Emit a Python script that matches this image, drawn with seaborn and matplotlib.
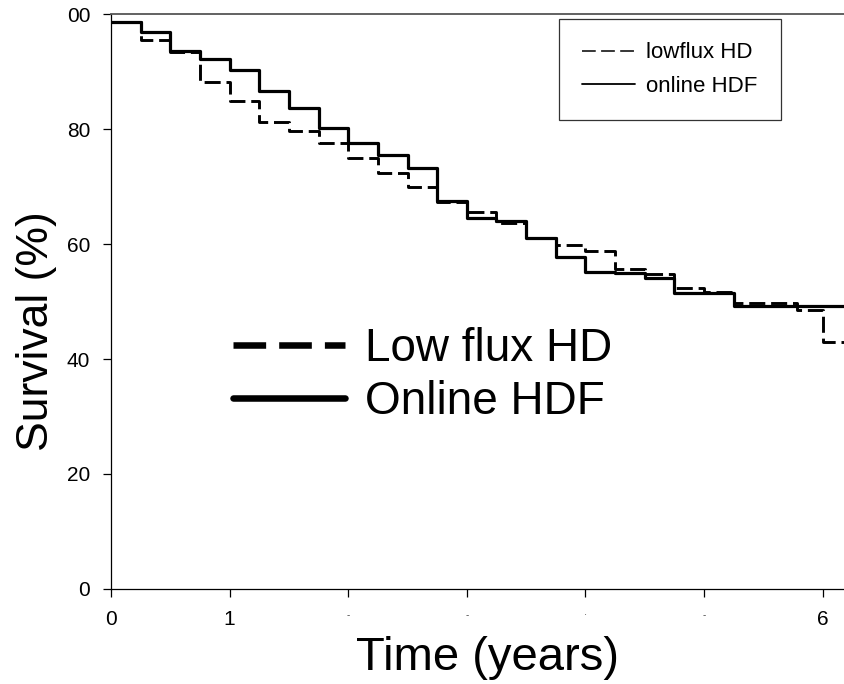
import numpy as np
import pandas as pd
import matplotlib
matplotlib.use("Agg")
import matplotlib.pyplot as plt
from matplotlib.lines import Line2D
import seaborn as sns

# Kaplan-Meier style survival steps (years, %)
hd_time = [0, 0.25, 0.5, 0.75, 1.0, 1.25, 1.5, 1.75, 2.0, 2.25, 2.5, 2.75, 3.0,
           3.25, 3.5, 3.75, 4.0, 4.25, 4.5, 4.75, 5.0, 5.25, 5.78, 6.0, 6.18]
hd_surv = [98.6, 95.5, 93.4, 88.1, 84.9, 81.3, 79.7, 77.6, 75.0, 72.3, 70.0, 67.3, 65.6,
           63.6, 61.0, 59.8, 58.7, 55.6, 54.8, 52.3, 51.6, 49.7, 48.5, 42.9, 42.9]

hdf_time = [0, 0.25, 0.5, 0.75, 1.0, 1.25, 1.5, 1.75, 2.0, 2.25, 2.5, 2.75, 3.0,
            3.25, 3.5, 3.75, 4.0, 4.25, 4.5, 4.75, 5.25, 6.18]
hdf_surv = [98.6, 96.9, 93.6, 92.1, 90.3, 86.6, 83.7, 80.2, 77.6, 75.5, 73.3, 67.5, 64.5,
            64.0, 61.0, 57.7, 55.2, 55.0, 54.1, 51.5, 49.2, 49.2]

x_ticks = [0, 1, 2, 3, 4, 5, 6]
x_ticklabels = ["0", "1", "-", "-", "\u00b7", "-", "6"]
y_ticks = [0, 20, 40, 60, 80, 100]
y_ticklabels = ["0", "20", "40", "60", "80", "00"]

sns.set_style("ticks")
plt.rcParams["font.family"] = ["Liberation Sans", "DejaVu Sans"]
plt.rcParams.update({"text.color": "black", "axes.labelcolor": "black",
                     "xtick.color": "black", "ytick.color": "black"})

hd = pd.DataFrame({"time": hd_time, "surv": hd_surv})
hdf = pd.DataFrame({"time": hdf_time, "surv": hdf_surv})

fig = plt.figure(figsize=(8.44, 6.84), dpi=100)
ax = fig.add_axes([0.1315, 0.1389, 0.8685, 0.8406])

sns.lineplot(data=hd, x="time", y="surv", ax=ax, color="black", lw=2.1,
             drawstyle="steps-post", linestyle=(0, (5.5, 2)), estimator=None)
sns.lineplot(data=hdf, x="time", y="surv", ax=ax, color="black", lw=2.3,
             drawstyle="steps-post", estimator=None)

ax.set_xlim(0, 6.18)
ax.set_ylim(0, 100)
ax.set_xticks(x_ticks)
ax.set_xticklabels(x_ticklabels)
ax.set_yticks(y_ticks)
ax.set_yticklabels(y_ticklabels)
ax.tick_params(axis="both", labelsize=15, length=6, width=0.9, pad=9, color="black")
for lab in ax.get_xticklabels()[2:6]:
    lab.set_fontsize(7)
    lab.set_color("#444444")

ax.spines["right"].set_visible(False)
ax.spines["top"].set_color("#555555")
ax.spines["top"].set_linewidth(1.3)
for s in ["left", "bottom"]:
    ax.spines[s].set_color("black")
    ax.spines[s].set_linewidth(0.9)

ax.set_xlabel("Time (years)", fontsize=34)
ax.set_ylabel("Survival (%)", fontsize=32)
ax.xaxis.set_label_coords(0.513, -0.082)
ax.yaxis.set_label_coords(-0.074, 0.449)

# small boxed legend (top right)
small = [Line2D([], [], color="black", lw=1.1, linestyle=(0, (9, 3.5))),
         Line2D([], [], color="black", lw=1.3)]
leg1 = fig.legend(small, ["lowflux HD", "online HDF"], loc="upper right",
                  bbox_to_anchor=(0.9254, 0.9722), fontsize=16, frameon=True,
                  fancybox=False, edgecolor="black", borderpad=1.05,
                  handlelength=2.4, handletextpad=0.5, labelspacing=0.55,
                  borderaxespad=0)
leg1.get_frame().set_linewidth(0.9)

# large legend in the middle
big = [Line2D([], [], color="black", lw=4.7, linestyle=(0, (5, 2))),
       Line2D([], [], color="black", lw=4.7)]
fig.legend(big, ["Low flux HD", "Online HDF"], loc="upper left",
           bbox_to_anchor=(0.276, 0.522), fontsize=33, frameon=False,
           handlelength=2.45, handletextpad=0.43, labelspacing=0.2,
           borderaxespad=0, borderpad=0)

fig.savefig("out.png", dpi=100)
